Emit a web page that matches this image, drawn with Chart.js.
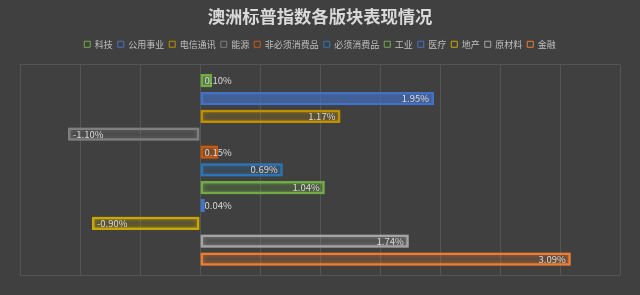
<!DOCTYPE html>
<html lang="zh">
<head>
    <meta charset="UTF-8">
    <title>澳洲标普指数各版块表现情况</title>
    <script src="https://cdn.jsdelivr.net/npm/chart.js"></script>
    <style>
        body {
            margin: 0;
            background: #404040;
        }

        .chart-container {
            width: 640px;
            height: 295px;
        }
    </style>
</head>
<body>
    <div class="chart-container">
        <canvas id="sector-chart" width="640" height="295"></canvas>
    </div>

    <script>
        // Sector returns (%), top to bottom as drawn
        const sectors = ['科技', '公用事业', '电信通讯', '能源', '非必须消费品', '必须消费品', '工业', '医疗', '地产', '原材料', '金融'];
        const changes = [0.10, 1.95, 1.17, -1.10, 0.15, 0.69, 1.04, 0.04, -0.90, 1.74, 3.09];
        const sectorColors = ['#70AD47', '#4472C4', '#BF9000', '#7F7F7F', '#C55A11', '#2E75B6', '#70AD47', '#4472C4', '#C9A800', '#A5A5A5', '#ED7D31'];
        const fillAlpha = [0.25, 0.45, 0.08, 0.08, 0.25, 0.08, 0.08, 0.3, 0.08, 0.08, 0.08];
        const axisMin = -1.5;
        const axisMax = 3.5;
        const axisStep = 0.5;

        const fontFamily = '"Noto Sans CJK SC", "Noto Sans", sans-serif';

        function withAlpha(hex, a) {
            const n = parseInt(hex.slice(1), 16);
            return `rgba(${(n >> 16) & 255}, ${(n >> 8) & 255}, ${n & 255}, ${a})`;
        }

        // Excel-like glow around each bar
        const glowPlugin = {
            id: 'glow',
            beforeDatasetDraw(chart, args) {
                const ctx = chart.ctx;
                ctx.save();
                ctx.shadowColor = withAlpha(sectorColors[args.index], 0.8);
                ctx.shadowBlur = 5;
            },
            afterDatasetDraw(chart) {
                chart.ctx.restore();
            }
        };

        // Push the plot area down a little below the legend
        const legendGap = {
            id: 'legendGap',
            beforeInit(chart) {
                const fit = chart.legend.fit;
                chart.legend.fit = function () {
                    fit.call(this);
                    this.height += 6;
                };
            }
        };

        // Value labels, inside the bar end, or next to the base when too short
        const labelPlugin = {
            id: 'valueLabels',
            afterDatasetsDraw(chart) {
                const ctx = chart.ctx;
                ctx.save();
                ctx.font = `9.5px ${fontFamily}`;
                ctx.fillStyle = '#d9d9d9';
                ctx.textBaseline = 'middle';
                chart.data.datasets.forEach((ds, i) => {
                    const bar = chart.getDatasetMeta(i).data[0];
                    const v = ds.data[0];
                    const text = v.toFixed(2) + '%';
                    const w = ctx.measureText(text).width;
                    const len = Math.abs(bar.x - bar.base);
                    if (v >= 0) {
                        if (len > w + 10) {
                            ctx.textAlign = 'right';
                            ctx.fillText(text, bar.x - 5, bar.y);
                        } else {
                            ctx.textAlign = 'left';
                            ctx.fillText(text, bar.base + 4, bar.y);
                        }
                    } else {
                        ctx.textAlign = 'left';
                        ctx.fillText(text, bar.x + 5, bar.y);
                    }
                });
                ctx.restore();
            }
        };

        const ctx = document.getElementById('sector-chart').getContext('2d');
        const chart = new Chart(ctx, {
            type: 'bar',
            data: {
                labels: [''],
                datasets: sectors.map((name, i) => ({
                    label: name,
                    data: [changes[i]],
                    borderColor: sectorColors[i],
                    backgroundColor: withAlpha(sectorColors[i], fillAlpha[i]),
                    borderWidth: 2.5,
                    borderSkipped: false,
                    barPercentage: 0.74,
                    categoryPercentage: 0.933
                }))
            },
            options: {
                indexAxis: 'y',
                responsive: false,
                animation: false,
                layout: {
                    padding: { left: 20, right: 20, bottom: 20 }
                },
                scales: {
                    x: {
                        min: axisMin,
                        max: axisMax,
                        ticks: { display: false, stepSize: axisStep },
                        grid: { color: '#555555', drawTicks: false },
                        border: { display: false }
                    },
                    y: {
                        ticks: { display: false },
                        grid: { color: '#555555', drawTicks: false, offset: true },
                        border: { display: false }
                    }
                },
                plugins: {
                    title: {
                        display: true,
                        text: '澳洲标普指数各版块表现情况',
                        color: '#d9d9d9',
                        font: { family: fontFamily, size: 17.3, weight: 'bold' },
                        padding: { top: 6, bottom: 8 }
                    },
                    legend: {
                        labels: {
                            color: '#bfbfbf',
                            font: { family: fontFamily, size: 9 },
                            boxWidth: 6,
                            boxHeight: 6,
                            padding: 5,
                            generateLabels(c) {
                                return Chart.defaults.plugins.legend.labels.generateLabels(c).map(item => {
                                    item.lineWidth = 1;
                                    item.fillStyle = 'rgba(0,0,0,0)';
                                    return item;
                                });
                            }
                        }
                    },
                    tooltip: { enabled: false }
                }
            },
            plugins: [glowPlugin, legendGap, labelPlugin]
        });
    </script>
</body>
</html>
